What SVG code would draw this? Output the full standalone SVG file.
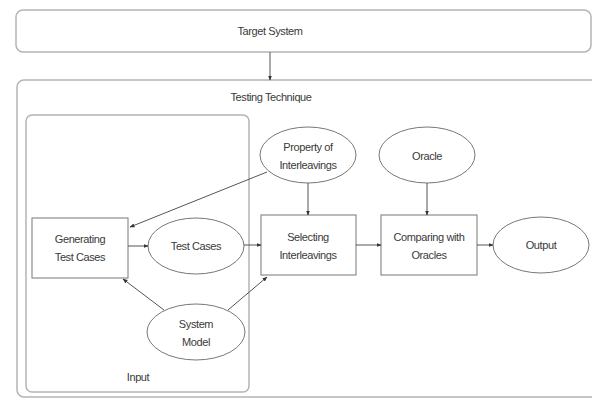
<svg xmlns="http://www.w3.org/2000/svg" width="592" height="401" viewBox="0 0 592 401">
<defs>
<marker id="ah" viewBox="0 0 10 10" refX="9" refY="5" markerWidth="5" markerHeight="5" orient="auto-start-reverse" markerUnits="userSpaceOnUse">
<path d="M0,1 L10,5 L0,9 z" fill="#333"/>
</marker>
<style>
.box{fill:#fff;stroke:#9a9a9a;stroke-width:1.2}
.frame{fill:none;stroke:#b4b4b4;stroke-width:1.5}
.node{fill:#fff;stroke:#777;stroke-width:1}
.t{font-family:"Liberation Sans",Arial,sans-serif;font-size:11px;fill:#3a3a3a;text-anchor:middle;letter-spacing:-0.4px}
.c{fill:none;stroke:#555;stroke-width:1;marker-end:url(#ah)}
</style>
</defs>
<rect width="592" height="401" fill="#fff"/>
<g id="target-system">
<rect class="frame" x="16" y="10" width="575" height="42" rx="7"/>
<text class="t" x="270" y="35" fill="#3a3a3a">Target System</text>
</g>
<g id="testing-technique">
<rect class="frame" x="17" y="80" width="590" height="317" rx="7"/>
<text class="t" x="271" y="101" fill="#3a3a3a">Testing Technique</text>
</g>
<g id="input-group">
<rect class="frame" x="26" y="115" width="223" height="277" rx="6"/>
<text class="t" x="138" y="381" fill="#3a3a3a">Input</text>
</g>
<g id="generating-test-cases">
<rect class="node" x="32" y="218" width="96" height="60"/>
<text class="t" x="80" y="243">Generating</text>
<text class="t" x="80" y="261">Test Cases</text>
</g>
<g id="test-cases">
<ellipse class="node" cx="196" cy="246" rx="48" ry="28"/>
<text class="t" x="196" y="250">Test Cases</text>
</g>
<g id="system-model">
<ellipse class="node" cx="196" cy="332" rx="49" ry="28"/>
<text class="t" x="196" y="328">System</text>
<text class="t" x="196" y="346">Model</text>
</g>
<g id="property-of-interleavings">
<ellipse class="node" cx="308" cy="155" rx="48" ry="28"/>
<text class="t" x="308" y="151">Property of</text>
<text class="t" x="308" y="169">Interleavings</text>
</g>
<g id="oracle">
<ellipse class="node" cx="427" cy="155" rx="48" ry="28"/>
<text class="t" x="427" y="160">Oracle</text>
</g>
<g id="selecting-interleavings">
<rect class="node" x="261" y="215" width="95" height="60"/>
<text class="t" x="308" y="241">Selecting</text>
<text class="t" x="308" y="259">Interleavings</text>
</g>
<g id="comparing-with-oracles">
<rect class="node" x="381" y="215" width="96" height="60"/>
<text class="t" x="429" y="241">Comparing with</text>
<text class="t" x="429" y="259">Oracles</text>
</g>
<g id="output">
<ellipse class="node" cx="541" cy="245" rx="48" ry="28"/>
<text class="t" x="541" y="249">Output</text>
</g>
<g id="connectors">
<line class="c" x1="270" y1="52" x2="270" y2="80"/>
<line class="c" x1="128" y1="246" x2="148" y2="246"/>
<line class="c" x1="244" y1="245" x2="261" y2="245"/>
<line class="c" x1="308" y1="183" x2="308" y2="215"/>
<line class="c" x1="427" y1="183" x2="427" y2="215"/>
<line class="c" x1="356" y1="245" x2="381" y2="245"/>
<line class="c" x1="477" y1="245" x2="493" y2="245"/>
<line class="c" x1="267" y1="172" x2="130" y2="227"/>
<line class="c" x1="164" y1="310" x2="123" y2="279"/>
<line class="c" x1="228" y1="310" x2="267" y2="277"/>
</g>
</svg>
